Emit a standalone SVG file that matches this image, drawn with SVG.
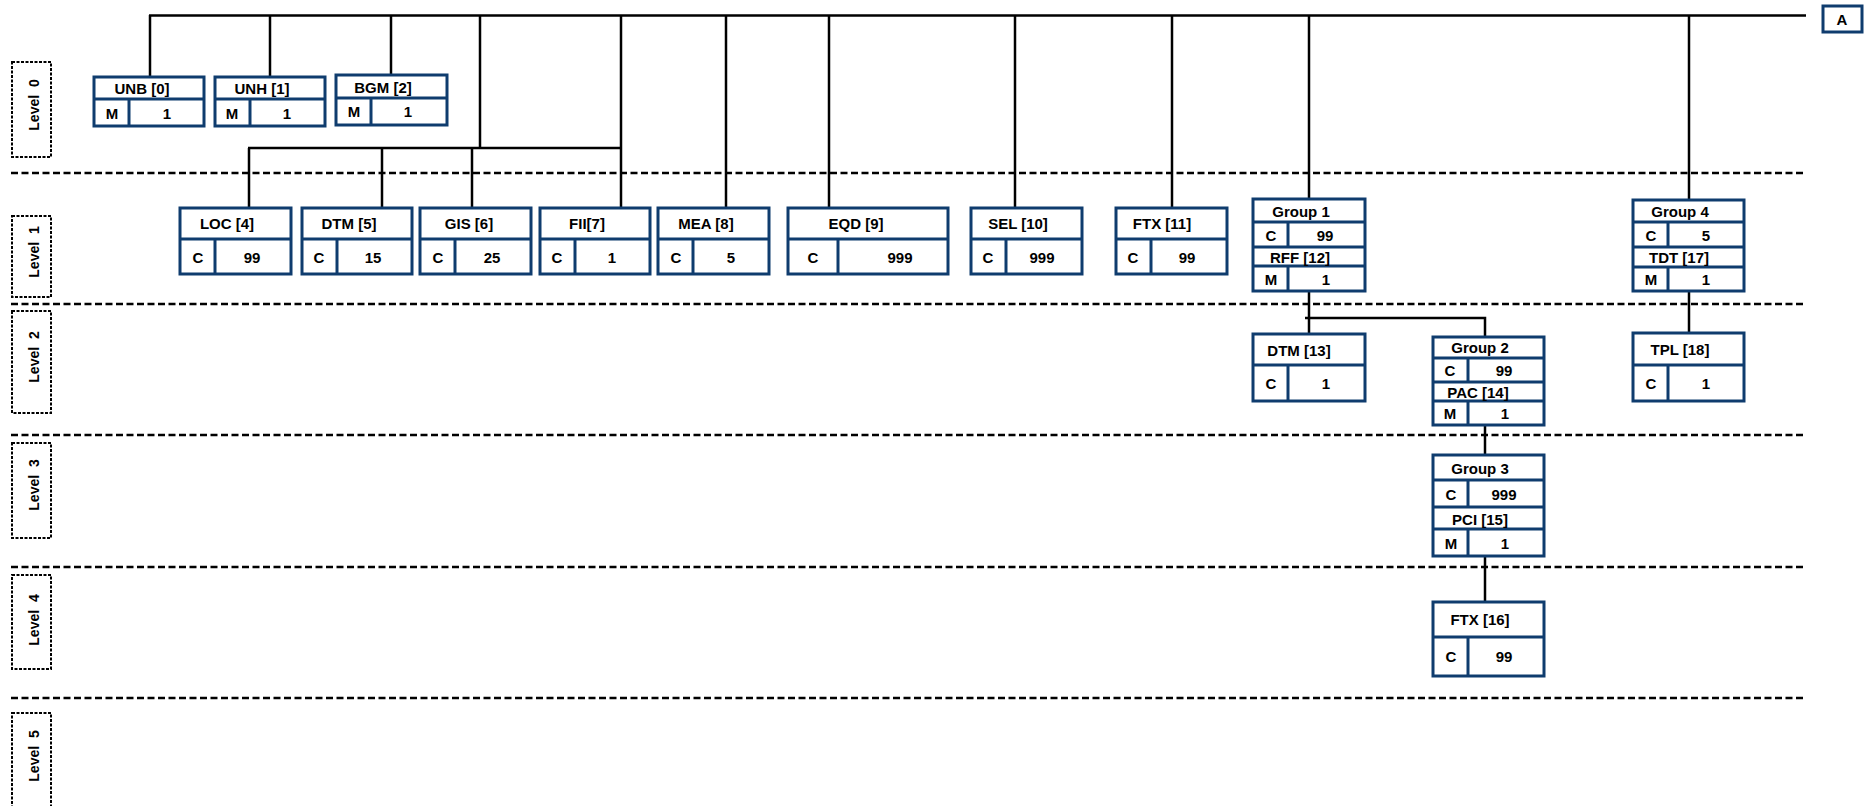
<svg xmlns="http://www.w3.org/2000/svg" width="1866" height="806" viewBox="0 0 1866 806">
<style>
.bx{fill:#fff;stroke:#0f3c6e;stroke-width:3}
.dv{stroke:#0f3c6e;stroke-width:3}
.t{font-family:"Liberation Sans",Arial,sans-serif;font-weight:bold;font-size:15px;fill:#000;text-anchor:middle;dominant-baseline:central}
.lt{font-family:"Liberation Sans",Arial,sans-serif;font-weight:bold;font-size:14px;fill:#000;text-anchor:middle;dominant-baseline:central;white-space:pre}
.c{stroke:#000;stroke-width:2.5;fill:none}
.ds{stroke:#000;stroke-width:2.5;stroke-dasharray:7 3.5;fill:none}
.lv{fill:none;stroke:#000;stroke-width:2;stroke-dasharray:3 1.5}
</style>
<rect width="1866" height="806" fill="#fff"/>
<g id="levels">
<line class="ds" x1="11" y1="173" x2="1806" y2="173"/>
<line class="ds" x1="11" y1="304" x2="1806" y2="304"/>
<line class="ds" x1="11" y1="435" x2="1806" y2="435"/>
<line class="ds" x1="11" y1="567" x2="1806" y2="567"/>
<line class="ds" x1="11" y1="698" x2="1806" y2="698"/>
<rect class="lv" x="12" y="62" width="39" height="95"/>
<text class="lt" transform="translate(34,105) rotate(-90)">Level  0</text>
<rect class="lv" x="12" y="216" width="39" height="81"/>
<text class="lt" transform="translate(34,252) rotate(-90)">Level  1</text>
<rect class="lv" x="12" y="311" width="39" height="102"/>
<text class="lt" transform="translate(34,357) rotate(-90)">Level  2</text>
<rect class="lv" x="12" y="443" width="39" height="95"/>
<text class="lt" transform="translate(34,485) rotate(-90)">Level  3</text>
<rect class="lv" x="12" y="575" width="39" height="94"/>
<text class="lt" transform="translate(34,620) rotate(-90)">Level  4</text>
<rect class="lv" x="12" y="713" width="39" height="110"/>
<text class="lt" transform="translate(34,756) rotate(-90)">Level  5</text>
</g>
<g id="connectors">
<path class="c" d="M149,15.5 H1806"/>
<path class="c" d="M150,15 V77"/>
<path class="c" d="M270,15 V77"/>
<path class="c" d="M391,15 V75"/>
<path class="c" d="M480,15 V148"/>
<path class="c" d="M248,148 H621"/>
<path class="c" d="M621,15 V208"/>
<path class="c" d="M249,148 V209 H256"/>
<path class="c" d="M382,148 V209 H377"/>
<path class="c" d="M472,148 V208"/>
<path class="c" d="M726,15 V208"/>
<path class="c" d="M829,15 V208"/>
<path class="c" d="M1015,15 V208"/>
<path class="c" d="M1172,15 V208"/>
<path class="c" d="M1309,15 V199"/>
<path class="c" d="M1689,15 V200"/>
<path class="c" d="M1309,291 V334"/>
<path class="c" d="M1305,318 H1485 V337"/>
<path class="c" d="M1485,425 V455"/>
<path class="c" d="M1485,556 V602"/>
<path class="c" d="M1689,291 V333"/>
</g>
<g id="nodeA">
<rect class="bx" x="1823" y="6" width="39" height="26"/>
<text class="t" x="1842" y="19">A</text>
</g>
<g id="UNB">
<rect class="bx" x="94" y="77" width="110" height="49"/>
<line class="dv" x1="94" y1="99" x2="204" y2="99"/>
<line class="dv" x1="129" y1="99" x2="129" y2="126"/>
<text class="t" x="142" y="88">UNB [0]</text>
<text class="t" x="112" y="113">M</text>
<text class="t" x="167" y="113">1</text>
</g>
<g id="UNH">
<rect class="bx" x="215" y="77" width="110" height="49"/>
<line class="dv" x1="215" y1="99" x2="325" y2="99"/>
<line class="dv" x1="250" y1="99" x2="250" y2="126"/>
<text class="t" x="262" y="88">UNH [1]</text>
<text class="t" x="232" y="113">M</text>
<text class="t" x="287" y="113">1</text>
</g>
<g id="BGM">
<rect class="bx" x="336" y="75" width="111" height="50"/>
<line class="dv" x1="336" y1="98" x2="447" y2="98"/>
<line class="dv" x1="371" y1="98" x2="371" y2="125"/>
<text class="t" x="383" y="87">BGM [2]</text>
<text class="t" x="354" y="111">M</text>
<text class="t" x="408" y="111">1</text>
</g>
<g id="LOC">
<rect class="bx" x="180" y="208" width="111" height="66"/>
<line class="dv" x1="180" y1="239" x2="291" y2="239"/>
<line class="dv" x1="215" y1="239" x2="215" y2="274"/>
<text class="t" x="227" y="223">LOC [4]</text>
<text class="t" x="198" y="257">C</text>
<text class="t" x="252" y="257">99</text>
</g>
<g id="DTM5">
<rect class="bx" x="302" y="208" width="110" height="66"/>
<line class="dv" x1="302" y1="239" x2="412" y2="239"/>
<line class="dv" x1="337" y1="239" x2="337" y2="274"/>
<text class="t" x="349" y="223">DTM [5]</text>
<text class="t" x="319" y="257">C</text>
<text class="t" x="373" y="257">15</text>
</g>
<g id="GIS">
<rect class="bx" x="420" y="208" width="111" height="66"/>
<line class="dv" x1="420" y1="239" x2="531" y2="239"/>
<line class="dv" x1="455" y1="239" x2="455" y2="274"/>
<text class="t" x="469" y="223">GIS [6]</text>
<text class="t" x="438" y="257">C</text>
<text class="t" x="492" y="257">25</text>
</g>
<g id="FII">
<rect class="bx" x="540" y="208" width="110" height="66"/>
<line class="dv" x1="540" y1="239" x2="650" y2="239"/>
<line class="dv" x1="575" y1="239" x2="575" y2="274"/>
<text class="t" x="587" y="223">FII[7]</text>
<text class="t" x="557" y="257">C</text>
<text class="t" x="612" y="257">1</text>
</g>
<g id="MEA">
<rect class="bx" x="658" y="208" width="111" height="66"/>
<line class="dv" x1="658" y1="239" x2="769" y2="239"/>
<line class="dv" x1="693" y1="239" x2="693" y2="274"/>
<text class="t" x="706" y="223">MEA [8]</text>
<text class="t" x="676" y="257">C</text>
<text class="t" x="731" y="257">5</text>
</g>
<g id="EQD">
<rect class="bx" x="788" y="208" width="160" height="66"/>
<line class="dv" x1="788" y1="239" x2="948" y2="239"/>
<line class="dv" x1="838" y1="239" x2="838" y2="274"/>
<text class="t" x="856" y="223">EQD [9]</text>
<text class="t" x="813" y="257">C</text>
<text class="t" x="900" y="257">999</text>
</g>
<g id="SEL">
<rect class="bx" x="971" y="208" width="111" height="66"/>
<line class="dv" x1="971" y1="239" x2="1082" y2="239"/>
<line class="dv" x1="1006" y1="239" x2="1006" y2="274"/>
<text class="t" x="1018" y="223">SEL [10]</text>
<text class="t" x="988" y="257">C</text>
<text class="t" x="1042" y="257">999</text>
</g>
<g id="FTX11">
<rect class="bx" x="1116" y="208" width="111" height="66"/>
<line class="dv" x1="1116" y1="239" x2="1227" y2="239"/>
<line class="dv" x1="1151" y1="239" x2="1151" y2="274"/>
<text class="t" x="1162" y="223">FTX [11]</text>
<text class="t" x="1133" y="257">C</text>
<text class="t" x="1187" y="257">99</text>
</g>
<g id="Group1">
<rect class="bx" x="1253" y="199" width="112" height="92"/>
<line class="dv" x1="1253" y1="222" x2="1365" y2="222"/>
<line class="dv" x1="1253" y1="247" x2="1365" y2="247"/>
<line class="dv" x1="1253" y1="266" x2="1365" y2="266"/>
<line class="dv" x1="1288" y1="222" x2="1288" y2="247"/>
<line class="dv" x1="1288" y1="266" x2="1288" y2="291"/>
<text class="t" x="1301" y="211">Group 1</text>
<text class="t" x="1271" y="235">C</text>
<text class="t" x="1325" y="235">99</text>
<text class="t" x="1300" y="257">RFF [12]</text>
<text class="t" x="1271" y="279">M</text>
<text class="t" x="1326" y="279">1</text>
</g>
<g id="Group4">
<rect class="bx" x="1633" y="200" width="111" height="91"/>
<line class="dv" x1="1633" y1="222" x2="1744" y2="222"/>
<line class="dv" x1="1633" y1="247" x2="1744" y2="247"/>
<line class="dv" x1="1633" y1="267" x2="1744" y2="267"/>
<line class="dv" x1="1668" y1="222" x2="1668" y2="247"/>
<line class="dv" x1="1668" y1="267" x2="1668" y2="291"/>
<text class="t" x="1680" y="211">Group 4</text>
<text class="t" x="1651" y="235">C</text>
<text class="t" x="1706" y="235">5</text>
<text class="t" x="1679" y="257">TDT [17]</text>
<text class="t" x="1651" y="279">M</text>
<text class="t" x="1706" y="279">1</text>
</g>
<g id="DTM13">
<rect class="bx" x="1253" y="334" width="112" height="67"/>
<line class="dv" x1="1253" y1="365" x2="1365" y2="365"/>
<line class="dv" x1="1288" y1="365" x2="1288" y2="401"/>
<text class="t" x="1299" y="350">DTM [13]</text>
<text class="t" x="1271" y="383">C</text>
<text class="t" x="1326" y="383">1</text>
</g>
<g id="Group2">
<rect class="bx" x="1433" y="337" width="111" height="88"/>
<line class="dv" x1="1433" y1="358" x2="1544" y2="358"/>
<line class="dv" x1="1433" y1="382" x2="1544" y2="382"/>
<line class="dv" x1="1433" y1="401" x2="1544" y2="401"/>
<line class="dv" x1="1468" y1="358" x2="1468" y2="382"/>
<line class="dv" x1="1468" y1="401" x2="1468" y2="425"/>
<text class="t" x="1480" y="347">Group 2</text>
<text class="t" x="1450" y="370">C</text>
<text class="t" x="1504" y="370">99</text>
<text class="t" x="1478" y="392">PAC [14]</text>
<text class="t" x="1450" y="413">M</text>
<text class="t" x="1505" y="413">1</text>
</g>
<g id="TPL">
<rect class="bx" x="1633" y="333" width="111" height="68"/>
<line class="dv" x1="1633" y1="365" x2="1744" y2="365"/>
<line class="dv" x1="1668" y1="365" x2="1668" y2="401"/>
<text class="t" x="1680" y="349">TPL [18]</text>
<text class="t" x="1651" y="383">C</text>
<text class="t" x="1706" y="383">1</text>
</g>
<g id="Group3">
<rect class="bx" x="1433" y="455" width="111" height="101"/>
<line class="dv" x1="1433" y1="480" x2="1544" y2="480"/>
<line class="dv" x1="1433" y1="507" x2="1544" y2="507"/>
<line class="dv" x1="1433" y1="529" x2="1544" y2="529"/>
<line class="dv" x1="1468" y1="480" x2="1468" y2="507"/>
<line class="dv" x1="1468" y1="529" x2="1468" y2="556"/>
<text class="t" x="1480" y="468">Group 3</text>
<text class="t" x="1451" y="494">C</text>
<text class="t" x="1504" y="494">999</text>
<text class="t" x="1480" y="519">PCI [15]</text>
<text class="t" x="1451" y="543">M</text>
<text class="t" x="1505" y="543">1</text>
</g>
<g id="FTX16">
<rect class="bx" x="1433" y="602" width="111" height="74"/>
<line class="dv" x1="1433" y1="637" x2="1544" y2="637"/>
<line class="dv" x1="1468" y1="637" x2="1468" y2="676"/>
<text class="t" x="1480" y="619">FTX [16]</text>
<text class="t" x="1451" y="656">C</text>
<text class="t" x="1504" y="656">99</text>
</g>
</svg>
